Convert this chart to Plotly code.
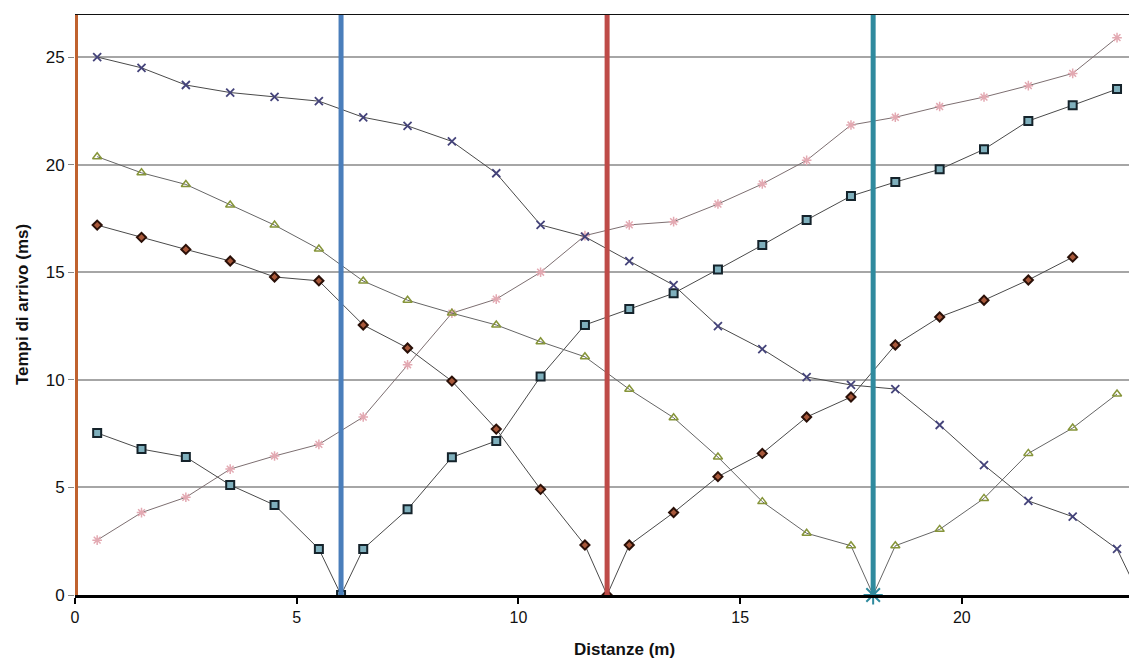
import plotly.graph_objects as go

# Geophone positions (m)
x_geo = [0.5 + i for i in range(24)]

# Shot positions
shots = [0, 6, 12, 18]
shot_colors = ["#c0622f", "#4a7ebb", "#be4b48", "#2f8a9e"]

# Shot at 0 m (pink asterisks)
x_pink = x_geo
y_pink = [2.55, 3.83, 4.54, 5.85, 6.46, 7.0, 8.27, 10.7, 13.1, 13.75, 15.0, 16.7,
          17.2, 17.35, 18.17, 19.1, 20.2, 21.84, 22.2, 22.7, 23.14, 23.67, 24.24, 25.9]

# Shot at 6 m (squares)
x_sq = [0.5, 1.5, 2.5, 3.5, 4.5, 5.5, 6.0, 6.5, 7.5, 8.5, 9.5, 10.5, 11.5, 12.5, 13.5,
        14.5, 15.5, 16.5, 17.5, 18.5, 19.5, 20.5, 21.5, 22.5, 23.5]
y_sq = [7.53, 6.78, 6.41, 5.11, 4.18, 2.14, 0.0, 2.14, 3.98, 6.4, 7.16, 10.15, 12.55, 13.29,
        14.02, 15.13, 16.26, 17.43, 18.54, 19.19, 19.78, 20.71, 22.03, 22.76, 23.51]

# Shot at 12 m (diamonds)
x_dia = [0.5, 1.5, 2.5, 3.5, 4.5, 5.5, 6.5, 7.5, 8.5, 9.5, 10.5, 11.5, 12.0, 12.5, 13.5,
         14.5, 15.5, 16.5, 17.5, 18.5, 19.5, 20.5, 21.5, 22.5]
y_dia = [17.19, 16.62, 16.06, 15.52, 14.78, 14.6, 12.55, 11.48, 9.94, 7.71, 4.91, 2.32, 0.0,
         2.32, 3.83, 5.5, 6.58, 8.27, 9.2, 11.62, 12.92, 13.7, 14.64, 15.7]

# Shot at 18 m (triangles)
x_tri = [0.5, 1.5, 2.5, 3.5, 4.5, 5.5, 6.5, 7.5, 8.5, 9.5, 10.5, 11.5, 12.5, 13.5, 14.5,
         15.5, 16.5, 17.5, 18.0, 18.5, 19.5, 20.5, 21.5, 22.5, 23.5]
y_tri = [20.37, 19.62, 19.08, 18.12, 17.19, 16.08, 14.59, 13.7, 13.1, 12.55, 11.77, 11.07,
         9.56, 8.24, 6.41, 4.34, 2.87, 2.29, 0.0, 2.29, 3.05, 4.49, 6.58, 7.76, 9.34]

# Shot at 24 m (crosses)
x_cr = x_geo + [24.0]
y_cr = [25.0, 24.5, 23.7, 23.35, 23.15, 22.95, 22.2, 21.8, 21.08, 19.6, 17.2, 16.65, 15.52,
        14.4, 12.5, 11.43, 10.13, 9.76, 9.57, 7.9, 6.04, 4.37, 3.64, 2.14, 0.0]

fig = go.Figure()

# Shot vertical lines
for s, c in zip(shots, shot_colors):
    fig.add_shape(type="line", xref="x", yref="y", x0=s, x1=s, y0=0, y1=27,
                  line=dict(color=c, width=5 if s > 0 else 6), layer="above")

# Top border
fig.add_shape(type="line", xref="paper", yref="y", x0=0, x1=1, y0=27, y1=27,
              line=dict(color="#111111", width=2))

line_col = "#4a4a4a"

fig.add_trace(go.Scatter(x=x_pink, y=y_pink, mode="lines+markers",
                         line=dict(color="#7d6f71", width=1),
                         marker=dict(symbol="asterisk-open", size=8, color="#e3a9b2",
                                     line=dict(color="#e3a9b2", width=1.5))))
fig.add_trace(go.Scatter(x=x_sq, y=y_sq, mode="lines+markers",
                         line=dict(color=line_col, width=1),
                         marker=dict(symbol="square", size=8, color="#7fb0bd",
                                     line=dict(color="#15232b", width=2))))
fig.add_trace(go.Scatter(x=x_dia, y=y_dia, mode="lines+markers",
                         line=dict(color=line_col, width=1),
                         marker=dict(symbol="diamond", size=7, color="#a8583a",
                                     line=dict(color="#2a1008", width=2))))
fig.add_trace(go.Scatter(x=x_tri, y=y_tri, mode="lines+markers",
                         line=dict(color="#666666", width=1),
                         marker=dict(symbol="triangle-up-open", size=8, color="#86953a",
                                     line=dict(color="#86953a", width=1.5))))
fig.add_trace(go.Scatter(x=x_cr, y=y_cr, mode="lines+markers",
                         line=dict(color=line_col, width=1),
                         marker=dict(symbol="x-thin-open", size=8, color="#44437a",
                                     line=dict(color="#44437a", width=1.8))))

# Shot marker at 18 m
fig.add_trace(go.Scatter(x=[shots[3]], y=[0], mode="markers",
                         marker=dict(symbol="asterisk-open", size=16, color=shot_colors[3],
                                     line=dict(color=shot_colors[3], width=2)),
                         cliponaxis=False))

font = "Liberation Sans, Arial, sans-serif"
fig.add_annotation(text="<b>Distanze (m)</b>", xref="paper", yref="paper",
                   x=0.521, y=-0.093, xanchor="center", yanchor="middle",
                   showarrow=False, font=dict(size=17, family=font, color="#111111"))

fig.update_layout(
    width=1129, height=659,
    margin=dict(l=75, r=0, t=14, b=64),
    paper_bgcolor="white", plot_bgcolor="white",
    showlegend=False,
    font=dict(family=font, size=15, color="#111111"),
    xaxis=dict(range=[0, 23.77], tickvals=[0, 5, 10, 15, 20], showgrid=False,
               zeroline=False, showline=True, linecolor="#000000", linewidth=3,
               ticks="outside", ticklen=6, tickcolor="#000000", tickwidth=2,
               tickfont=dict(size=16)),
    yaxis=dict(range=[0, 27], tickvals=[0, 5, 10, 15, 20, 25], showgrid=True,
               gridcolor="#a6a6a6", gridwidth=1.5, zeroline=False, showline=False,
               ticks="outside", ticklen=6, tickcolor="#888888",
               tickfont=dict(size=17),
               title=dict(text="<b>Tempi di arrivo (ms)</b>", font=dict(size=17), standoff=12)),
)

fig.write_html("out.html")
